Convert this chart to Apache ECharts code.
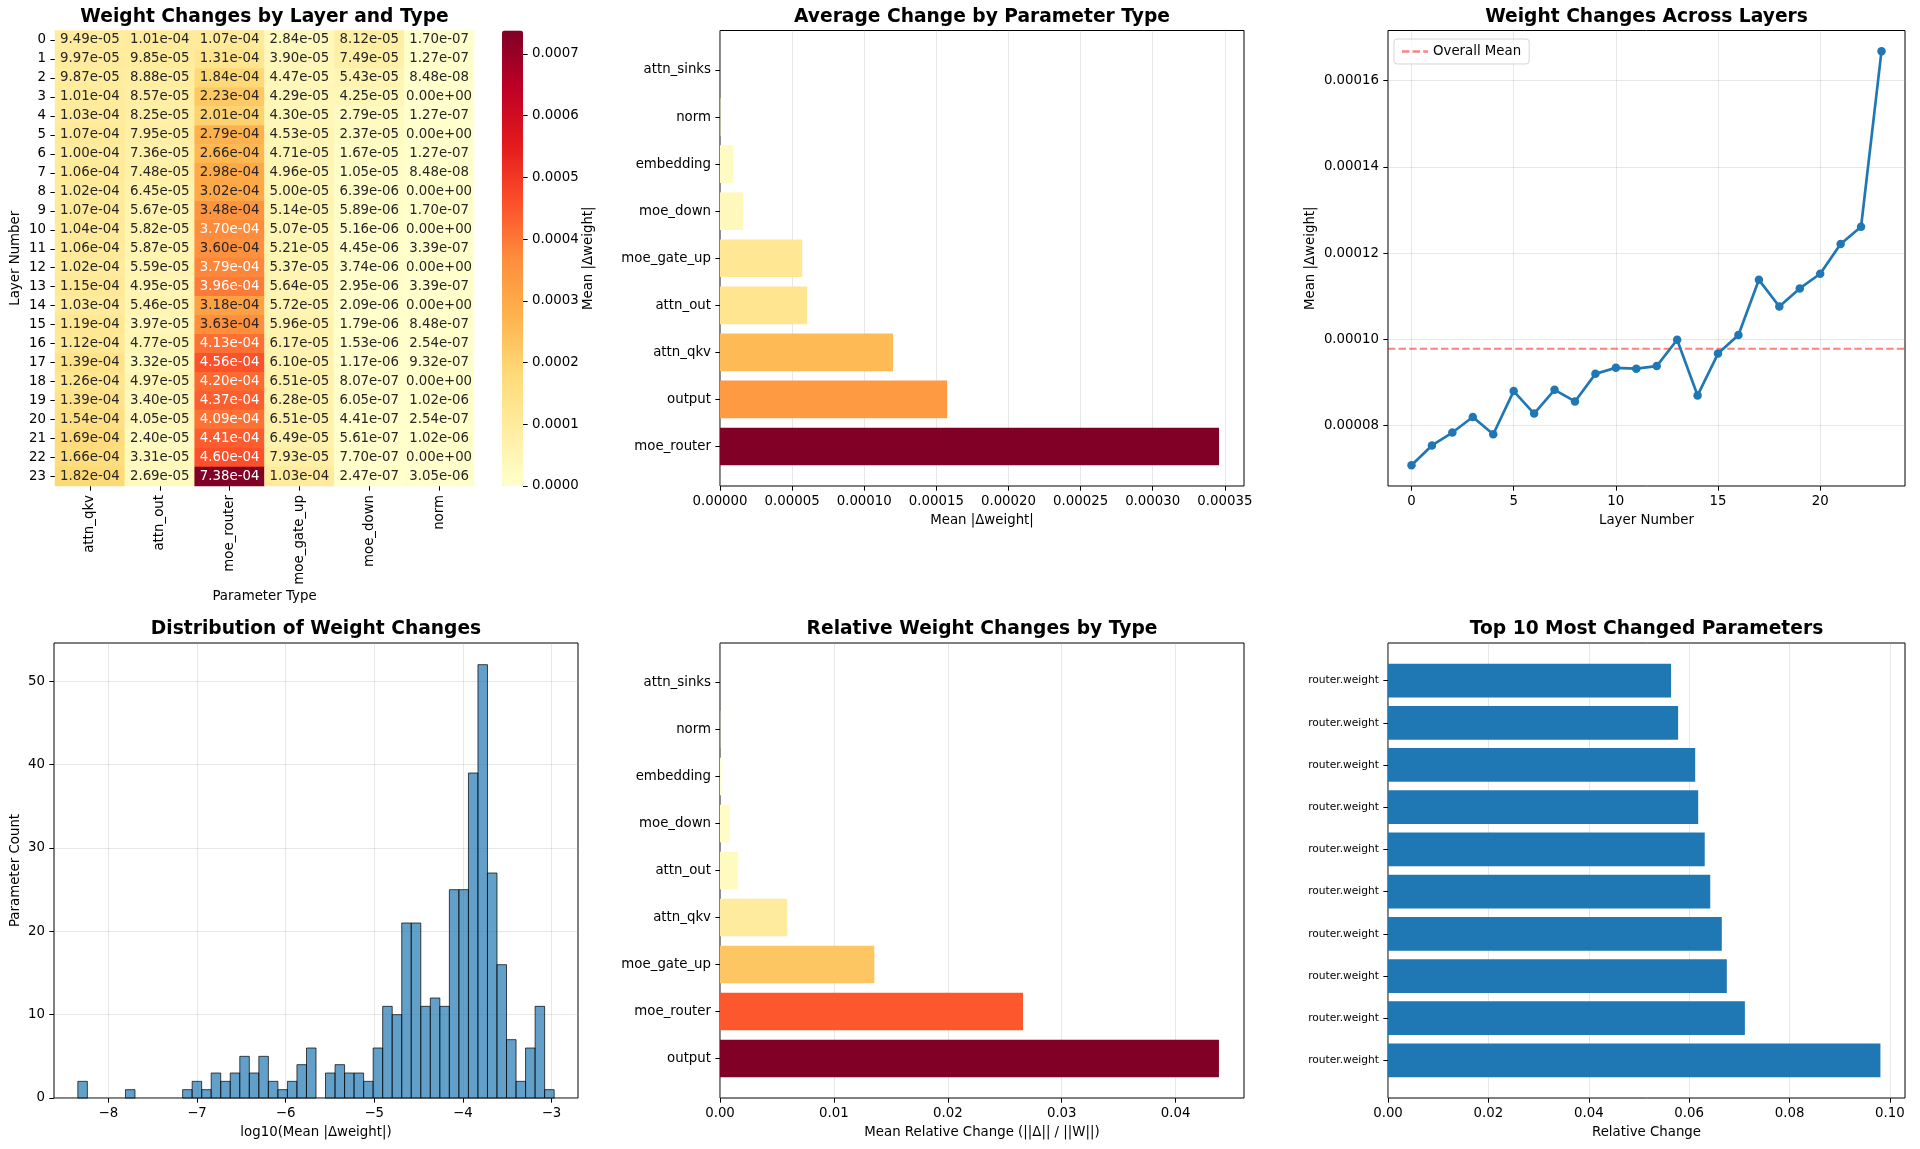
<!DOCTYPE html>
<html><head><meta charset="utf-8">
<script src="https://cdn.jsdelivr.net/npm/echarts@6/dist/echarts.min.js"></script>
<style>html,body{margin:0;padding:0;background:#fff}#c{width:1920px;height:1149px}</style>
</head><body><div id="c"></div>
<script>
// ---------------- DATA ----------------
const paramTypes = ['attn_qkv','attn_out','moe_router','moe_gate_up','moe_down','norm'];
const layerLabels = ['0','1','2','3','4','5','6','7','8','9','10','11','12','13','14','15','16','17','18','19','20','21','22','23'];
const heatValues = [
  [9.49e-05,1.01e-04,1.07e-04,2.84e-05,8.12e-05,1.70e-07],
  [9.97e-05,9.85e-05,1.31e-04,3.90e-05,7.49e-05,1.27e-07],
  [9.87e-05,8.88e-05,1.84e-04,4.47e-05,5.43e-05,8.48e-08],
  [1.01e-04,8.57e-05,2.23e-04,4.29e-05,4.25e-05,0],
  [1.03e-04,8.25e-05,2.01e-04,4.30e-05,2.79e-05,1.27e-07],
  [1.07e-04,7.95e-05,2.79e-04,4.53e-05,2.37e-05,0],
  [1.00e-04,7.36e-05,2.66e-04,4.71e-05,1.67e-05,1.27e-07],
  [1.06e-04,7.48e-05,2.98e-04,4.96e-05,1.05e-05,8.48e-08],
  [1.02e-04,6.45e-05,3.02e-04,5.00e-05,6.39e-06,0],
  [1.07e-04,5.67e-05,3.48e-04,5.14e-05,5.89e-06,1.70e-07],
  [1.04e-04,5.82e-05,3.70e-04,5.07e-05,5.16e-06,0],
  [1.06e-04,5.87e-05,3.60e-04,5.21e-05,4.45e-06,3.39e-07],
  [1.02e-04,5.59e-05,3.79e-04,5.37e-05,3.74e-06,0],
  [1.15e-04,4.95e-05,3.96e-04,5.64e-05,2.95e-06,3.39e-07],
  [1.03e-04,5.46e-05,3.18e-04,5.72e-05,2.09e-06,0],
  [1.19e-04,3.97e-05,3.63e-04,5.96e-05,1.79e-06,8.48e-07],
  [1.12e-04,4.77e-05,4.13e-04,6.17e-05,1.53e-06,2.54e-07],
  [1.39e-04,3.32e-05,4.56e-04,6.10e-05,1.17e-06,9.32e-07],
  [1.26e-04,4.97e-05,4.20e-04,6.51e-05,8.07e-07,0],
  [1.39e-04,3.40e-05,4.37e-04,6.28e-05,6.05e-07,1.02e-06],
  [1.54e-04,4.05e-05,4.09e-04,6.51e-05,4.41e-07,2.54e-07],
  [1.69e-04,2.40e-05,4.41e-04,6.49e-05,5.61e-07,1.02e-06],
  [1.66e-04,3.31e-05,4.60e-04,7.93e-05,7.70e-07,0],
  [1.82e-04,2.69e-05,7.38e-04,1.03e-04,2.47e-07,3.05e-06]
];
const colorbarTicks = [0,0.0001,0.0002,0.0003,0.0004,0.0005,0.0006,0.0007];

// Average change by type (bottom -> top)
const avgTypes = ['moe_router','output','attn_qkv','attn_out','moe_gate_up','moe_down','embedding','norm','attn_sinks'];
const avgValues = [3.46e-4,1.575e-4,1.20e-4,6.05e-5,5.70e-5,1.62e-5,9.3e-6,3.0e-7,0];
const avgTicks = [0,0.00005,0.0001,0.00015,0.0002,0.00025,0.0003,0.00035];

// Layer means
const layerNums = [0,1,2,3,4,5,6,7,8,9,10,11,12,13,14,15,16,17,18,19,20,21,22,23];
const layerMeans = [7.08e-5,7.54e-5,7.84e-5,8.20e-5,7.80e-5,8.80e-5,8.28e-5,8.83e-5,8.56e-5,9.20e-5,9.34e-5,9.32e-5,9.38e-5,9.99e-5,8.70e-5,9.67e-5,1.010e-4,1.138e-4,1.076e-4,1.118e-4,1.152e-4,1.221e-4,1.261e-4,1.668e-4];
const overallMean = 9.78e-5;
const layerXMin = -1.15, layerXMax = 24.15;
const layerXTicks = [0,5,10,15,20];
const layerYTicks = [0.00008,0.0001,0.00012,0.00014,0.00016];

// Histogram of log10(mean |dw|)
const histBinStart = -8.345;
const histBinWidth = 0.1075;
const histCounts = [2,0,0,0,0,1,0,0,0,0, 0,1,2,1,3,2,3,5,3,5, 2,1,2,4,6,0,3,4,3,3, 2,6,11,10,21,21,11,12,11,25, 25,39,52,27,16,7,2,6,11,1];
const histXTicks = [-8,-7,-6,-5,-4,-3];
const histYTicks = [0,10,20,30,40,50];

// Relative change by type (bottom -> top)
const relTypes = ['output','moe_router','moe_gate_up','attn_qkv','attn_out','moe_down','embedding','norm','attn_sinks'];
const relValues = [0.0438,0.0266,0.01355,0.0059,0.0016,0.00086,0.0001,0.00002,0];
const relTicks = [0,0.01,0.02,0.03,0.04];

// Top 10 most changed (bottom -> top)
const topNames = ['router.weight','router.weight','router.weight','router.weight','router.weight','router.weight','router.weight','router.weight','router.weight','router.weight'];
const topValues = [0.0981,0.0711,0.0675,0.0665,0.0642,0.0631,0.0618,0.0612,0.0578,0.0564];
const topTicks = [0,0.02,0.04,0.06,0.08,0.10];

// ---------------- HELPERS ----------------
const YLORRD = ['#ffffcc','#ffeda0','#fed976','#feb24c','#fd8d3c','#fc4e2a','#e31a1c','#bd0026','#800026'];
function hex2rgb(h){return [parseInt(h.slice(1,3),16),parseInt(h.slice(3,5),16),parseInt(h.slice(5,7),16)];}
function cmapRGB(t){t=Math.max(0,Math.min(1,t));const p=t*8;const i=Math.min(7,Math.floor(p));const f=p-i;
  const a=hex2rgb(YLORRD[i]),b=hex2rgb(YLORRD[i+1]);return a.map((v,k)=>v+(b[k]-v)*f);}
function rgbStr(c){return 'rgb('+c.map(v=>Math.round(v)).join(',')+')';}
function relLum(c){const l=c.map(v=>{v=v/255;return v<=0.03928?v/12.92:Math.pow((v+0.055)/1.055,2.4);});
  return 0.2126*l[0]+0.7152*l[1]+0.0722*l[2];}
function fmtE(v){ if(v===0) return '0.00e+00';
  let e=Math.floor(Math.log10(Math.abs(v))); let m=v/Math.pow(10,e);
  if(Math.round(m*100)/100>=10){m/=10;e+=1;}
  const s=e<0?'-':'+'; const ea=Math.abs(e); return m.toFixed(2)+'e'+s+(ea<10?'0':'')+ea;}
const minus = s => String(s).replace('-','\u2212');

const FS = 13.33;
const TXT = {color:'#000', fontSize:FS, fontFamily:'DejaVu Sans'};
const tick = (vals)=>({show:true, inside:false, length:4.67, lineStyle:{color:'#000',width:1}, customValues:vals});
const gridLine = {show:true, lineStyle:{color:'rgba(176,176,176,0.3)', width:1}};
function vAxis(gi,pos,min,max,ticks,fmt,showGrid,extra){
  return Object.assign({type:'value',gridIndex:gi,position:pos,min:min,max:max,scale:true,
    axisLine:{show:false,onZero:false}, axisTick:tick(ticks),
    axisLabel:Object.assign({customValues:ticks,formatter:fmt,margin:9},TXT),
    splitLine: showGrid?gridLine:{show:false},
    nameTextStyle:Object.assign({},TXT), nameLocation:'middle'},extra||{});
}
const frame = {show:true,borderColor:'#000',borderWidth:1,backgroundColor:'rgba(0,0,0,0)'};

const G = [
  {left:55, top:30.5, width:419, height:455.5},   // 0 heatmap
  {left:502, top:30.5, width:21, height:455.5},   // 1 colorbar axis
  Object.assign({left:720, top:30.5, width:524, height:455.5},frame), // 2 avg
  Object.assign({left:1388, top:30.5, width:517, height:455.5},frame),// 3 line
  Object.assign({left:54, top:643, width:524, height:455},frame),     // 4 hist
  Object.assign({left:720, top:643, width:524, height:455},frame),    // 5 rel
  Object.assign({left:1388, top:643, width:517, height:455},frame)    // 6 top10
];

const hmMax = 7.38e-4;
const hmData = [];
heatValues.forEach((row,r)=>row.forEach((v,c)=>{
  const col = cmapRGB(v/hmMax);
  hmData.push({value:[c,r,v], label:{color: relLum(col)>0.408?'rgb(38,38,38)':'#fff'}});
}));

function hbar(gi, values, colors){
  return {type:'custom', xAxisIndex:gi, yAxisIndex:gi, silent:true,
    data: values.map((v,i)=>[v,i]),
    encode:{x:0,y:1},
    renderItem:function(params,api){
      const v=api.value(0), i=api.value(1);
      const p0=api.coord([0,i]), p1=api.coord([v,i]);
      const h=api.size([0,0.8])[1];
      return {type:'rect', shape:{x:p0[0], y:p0[1]-h/2, width:p1[0]-p0[0], height:h},
        style:{fill:colors[params.dataIndex]}};
    }};
}
const avgMax = Math.max(...avgValues), relMax = Math.max(...relValues);
const avgColors = avgValues.map(v=>rgbStr(cmapRGB(v/avgMax)));
const relColors = relValues.map(v=>rgbStr(cmapRGB(v/relMax)));
const topColors = topValues.map(()=> '#1f77b4');

const histData = histCounts.map((c,k)=>[histBinStart+k*histBinWidth, histBinStart+(k+1)*histBinWidth, c]);

const catY = (names)=> (v)=> names[Math.round(v)];

function title(text,cx,top){return {text:text,left:cx,top:top,textAlign:'center',padding:0,
  textStyle:{fontFamily:'DejaVu Sans',fontWeight:'bold',fontSize:18.67,color:'#000'}};}

const dashIcon = 'path://M0,0h7.4v2.67h-7.4zM10.6,0h7.4v2.67h-7.4zM21.2,0h4.8v2.67h-4.8z';

const option = {
  animation:false,
  backgroundColor:'#fff',
  textStyle:{fontFamily:'DejaVu Sans'},
  title:[
    title('Weight Changes by Layer and Type',264.5,7.5),
    title('Average Change by Parameter Type',982,7.5),
    title('Weight Changes Across Layers',1646.5,7.5),
    title('Distribution of Weight Changes',316,620),
    title('Relative Weight Changes by Type',982,620),
    title('Top 10 Most Changed Parameters',1646.5,620)
  ],
  grid:G,
  legend:{data:[{name:'Overall Mean', icon:dashIcon}], left:1394, top:39, padding:[6,8,6,8], itemWidth:26, itemHeight:2.67,
    itemGap:8, borderColor:'rgba(204,204,204,0.8)', borderWidth:1, borderRadius:3, backgroundColor:'rgba(255,255,255,0.8)',
    textStyle:{fontSize:FS,color:'#000',fontFamily:'DejaVu Sans'}, selectedMode:false},
  visualMap:[{type:'continuous', seriesIndex:0, min:0, max:hmMax, calculable:false, orient:'vertical',
    left:502, top:30.5, itemWidth:21, itemHeight:455.5, padding:0, inRange:{color:YLORRD}, hoverLink:false}],
  xAxis:[
    {type:'category', gridIndex:0, data:paramTypes, position:'bottom', axisLine:{show:false,onZero:false},
      axisTick:{show:true,alignWithLabel:true,length:4.67,lineStyle:{color:'#000'}},
      axisLabel:Object.assign({rotate:90,margin:9,interval:0},TXT), splitLine:{show:false},
      name:'Parameter Type', nameLocation:'middle', nameGap:104, nameTextStyle:Object.assign({},TXT)},
    {type:'value', gridIndex:1, show:false, min:0, max:1},
    vAxis(2,'bottom',0,0.0003633,avgTicks,v=>v.toFixed(5),true,{name:'Mean |Δweight|',nameGap:28}),
    vAxis(3,'bottom',layerXMin,layerXMax,layerXTicks,v=>String(v),true,{name:'Layer Number',nameGap:28}),
    vAxis(4,'bottom',-8.614,-2.701,histXTicks,v=>minus(v),true,{name:'log10(Mean |Δweight|)',nameGap:28}),
    vAxis(5,'bottom',0,0.046,relTicks,v=>v.toFixed(2),true,{name:'Mean Relative Change (||Δ|| / ||W||)',nameGap:28}),
    vAxis(6,'bottom',0,0.1030,topTicks,v=>v.toFixed(2),true,{name:'Relative Change',nameGap:28})
  ],
  yAxis:[
    {type:'category', gridIndex:0, data:layerLabels, inverse:true, axisLine:{show:false,onZero:false},
      axisTick:{show:true,alignWithLabel:true,length:4.67,lineStyle:{color:'#000'}},
      axisLabel:Object.assign({margin:9,interval:0},TXT), splitLine:{show:false},
      name:'Layer Number', nameLocation:'middle', nameGap:33, nameRotate:90, nameTextStyle:Object.assign({},TXT)},
    vAxis(1,'right',0,hmMax,colorbarTicks,v=>v.toFixed(4),false,{name:'Mean |Δweight|',nameGap:59,nameRotate:90}),
    vAxis(2,'left',-0.84,8.84,[0,1,2,3,4,5,6,7,8],catY(avgTypes),false),
    vAxis(3,'left',0.000066,0.0001716,layerYTicks,v=>v.toFixed(5),true,{name:'Mean |Δweight|',nameGap:71,nameRotate:90}),
    vAxis(4,'left',0,54.6,histYTicks,v=>String(v),true,{name:'Parameter Count',nameGap:32,nameRotate:90}),
    vAxis(5,'left',-0.84,8.84,[0,1,2,3,4,5,6,7,8],catY(relTypes),false),
    vAxis(6,'left',-0.89,9.89,[0,1,2,3,4,5,6,7,8,9],catY(topNames),false,{axisLabel:{customValues:[0,1,2,3,4,5,6,7,8,9],formatter:catY(topNames),margin:9,color:'#000',fontSize:10.67,fontFamily:'DejaVu Sans'}})
  ],
  series:[
    {type:'heatmap', xAxisIndex:0, yAxisIndex:0, data:hmData, silent:true,
      label:{show:true, formatter:p=>fmtE(p.value[2]), fontSize:FS, fontFamily:'DejaVu Sans'},
      itemStyle:{borderWidth:0}, emphasis:{disabled:true}},
    hbar(2, avgValues, avgColors),
    {type:'line', name:'Layer Mean', xAxisIndex:3, yAxisIndex:3, data:layerMeans.map((v,i)=>[layerNums[i],v]),
      symbol:'circle', symbolSize:8.5, showSymbol:true, lineStyle:{width:2.67,color:'#1f77b4'}, itemStyle:{color:'#1f77b4'}, z:4, silent:true},
    {type:'line', name:'Overall Mean', xAxisIndex:3, yAxisIndex:3,
      data:[[layerXMin, overallMean],[layerXMax, overallMean]], symbol:'none', showSymbol:false, silent:true, z:3,
      lineStyle:{color:'rgba(255,0,0,0.5)', type:[7.4,3.2], width:2}, itemStyle:{color:'rgba(255,0,0,0.5)'}},
    {type:'custom', xAxisIndex:4, yAxisIndex:4, silent:true, data:histData, encode:{x:[0,1],y:2},
      renderItem:function(params,api){
        const c=api.value(2); if(!c) return null;
        const p0=api.coord([api.value(0),c]), p1=api.coord([api.value(1),0]);
        return {type:'rect', shape:{x:p0[0],y:p0[1],width:p1[0]-p0[0],height:p1[1]-p0[1]},
          style:{fill:'rgba(31,119,180,0.7)',stroke:'rgba(0,0,0,0.7)',lineWidth:1}};
      }},
    hbar(5, relValues, relColors),
    hbar(6, topValues, topColors)
  ]
};
const chart = echarts.init(document.getElementById('c'), null, {renderer:'canvas'});
chart.setOption(option);
</script></body></html>
